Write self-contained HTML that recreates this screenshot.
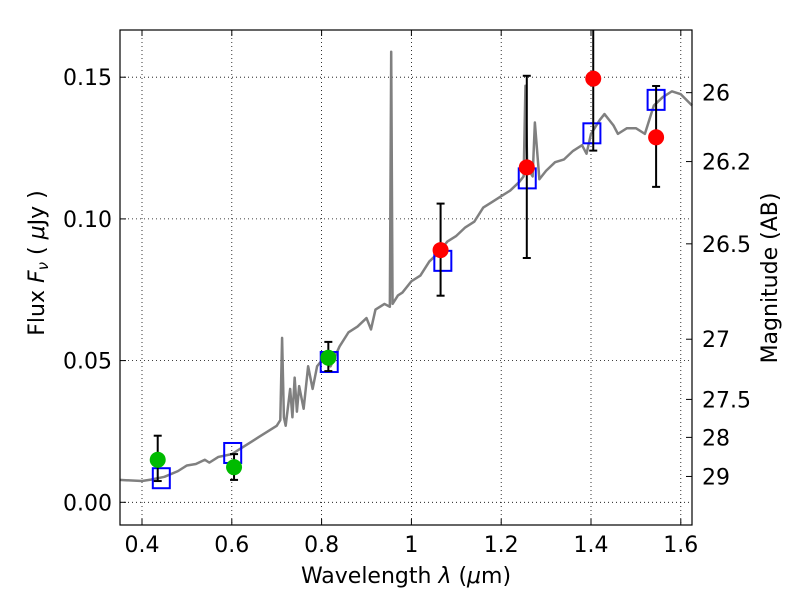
<!DOCTYPE html>
<html><head><meta charset="utf-8"><style>body{margin:0;background:#fff}svg{font-family:"DejaVu Sans","Liberation Sans",sans-serif}</style></head>
<body>
<svg id="c" width="800" height="600" xmlns="http://www.w3.org/2000/svg"></svg>
<script>
const specX=[0.35,0.40,0.42,0.45,0.48,0.50,0.52,0.54,0.55,0.57,0.60,0.62,0.64,0.66,0.68,0.70,0.708,0.712,0.716,0.72,0.73,0.735,0.74,0.745,0.75,0.76,0.77,0.78,0.79,0.80,0.82,0.84,0.86,0.88,0.90,0.91,0.92,0.94,0.952,0.955,0.958,0.97,0.98,1.00,1.02,1.04,1.06,1.08,1.10,1.12,1.14,1.16,1.18,1.20,1.22,1.24,1.25,1.254,1.258,1.27,1.275,1.285,1.30,1.32,1.34,1.36,1.38,1.39,1.40,1.42,1.43,1.45,1.46,1.48,1.50,1.52,1.54,1.56,1.58,1.60,1.625];
const specY=[0.0079,0.0075,0.008,0.009,0.011,0.013,0.0135,0.015,0.014,0.016,0.017,0.019,0.021,0.023,0.025,0.027,0.029,0.058,0.030,0.027,0.040,0.030,0.044,0.032,0.041,0.033,0.048,0.040,0.048,0.050,0.048,0.055,0.060,0.062,0.065,0.061,0.068,0.070,0.069,0.159,0.070,0.073,0.074,0.078,0.080,0.085,0.088,0.092,0.094,0.097,0.099,0.104,0.106,0.108,0.110,0.113,0.115,0.147,0.118,0.115,0.134,0.114,0.117,0.120,0.121,0.124,0.126,0.123,0.130,0.135,0.137,0.133,0.130,0.132,0.132,0.130,0.140,0.143,0.145,0.144,0.140];
const greenX=[0.435,0.605,0.815];
const greenY=[0.0150,0.0124,0.0510];
const greenLo=[0.0075,0.0079,0.0463];
const greenHi=[0.0235,0.0170,0.0566];
const redX=[1.065,1.257,1.405,1.545];
const redY=[0.0890,0.1182,0.1495,0.1288];
const redLo=[0.0729,0.0862,0.1241,0.1113];
const redHi=[0.1054,0.1505,0.1800,0.1469];
const boxX=[0.443,0.602,0.817,1.070,1.258,1.402,1.545];
const boxY=[0.0085,0.0174,0.0495,0.0852,0.1143,0.1302,0.1420];
const xTicks=[0.4,0.6,0.8,1.0,1.2,1.4,1.6];
const xTickLabels=["0.4","0.6","0.8","1","1.2","1.4","1.6"];
const yTicks=[0,0.05,0.10,0.15];
const yTickLabels=["0.00","0.05","0.10","0.15"];
const magTicks=[26,26.2,26.5,27,27.5,28,29];
const magTickLabels=["26","26.2","26.5","27","27.5","28","29"];

const L=120,R=692,T=30,B=525;
const sx=v=>142+(v-0.4)*449;
const sy=v=>502.3-v*2834;
const NS="http://www.w3.org/2000/svg";
const svg=document.getElementById('c');
function mk(t,a,p){const e=document.createElementNS(NS,t);for(const k in a)e.setAttribute(k,a[k]);(p||svg).appendChild(e);return e;}
const grid=mk('g',{});


xTicks.forEach((v,i)=>{const x=sx(v);
 mk('line',{x1:x,x2:x,y1:T,y2:B,stroke:'#000','stroke-width':0.8,'stroke-dasharray':'1,3'},grid);
 mk('line',{x1:x,x2:x,y1:B,y2:B-6,stroke:'#000'});mk('line',{x1:x,x2:x,y1:T,y2:T+6,stroke:'#000'});
 const t=mk('text',{x:x,y:B+27,'font-size':22,'text-anchor':'middle'});t.textContent=xTickLabels[i];
 
 });
yTicks.forEach((v,i)=>{const y=sy(v);
 mk('line',{x1:L,x2:R,y1:y,y2:y,stroke:'#000','stroke-width':0.8,'stroke-dasharray':'1,3'},grid);
 mk('line',{x1:L,x2:L+6,y1:y,y2:y,stroke:'#000'});
 const t=mk('text',{x:L-8,y:y+8,'font-size':22,'text-anchor':'end'});t.textContent=yTickLabels[i];
 
 });
magTicks.forEach((m,i)=>{const y=sy(Math.pow(10,-0.4*(m-23.9)));
 mk('line',{x1:R,x2:R-6,y1:y,y2:y,stroke:'#000'});
 const t=mk('text',{x:R+10,y:y+8,'font-size':22});t.textContent=magTickLabels[i];
 
 });
const sp=mk('polyline',{points:specX.map((v,i)=>sx(v)+','+sy(specY[i])).join(' '),fill:'none',stroke:'#808080','stroke-width':2.5,'stroke-linejoin':'round'});


function eb(x,lo,hi){const X=sx(x),y1=Math.max(sy(hi),T),y2=sy(lo);
 mk('line',{x1:X,x2:X,y1:y1,y2:y2,stroke:'#000','stroke-width':2});
 if(sy(hi)>T)mk('line',{x1:X-4,x2:X+4,y1:y1,y2:y1,stroke:'#000','stroke-width':2});
 mk('line',{x1:X-4,x2:X+4,y1:y2,y2:y2,stroke:'#000','stroke-width':2});}
boxX.forEach((v,i)=>{const b=mk('rect',{x:sx(v)-8.5,y:sy(boxY[i])-10,width:17,height:20,fill:'none',stroke:'#0000ff','stroke-width':2});
 
 });
greenX.forEach((v,i)=>{eb(v,greenLo[i],greenHi[i]);const c=mk('circle',{cx:sx(v),cy:sy(greenY[i]),r:8,fill:'#00bb00'});
 
 });
redX.forEach((v,i)=>{eb(v,redLo[i],redHi[i]);const c=mk('circle',{cx:sx(v),cy:sy(redY[i]),r:8,fill:'#ff0000'});
 
 });
const fr=mk('rect',{x:L,y:T,width:R-L,height:B-T,fill:'none',stroke:'#000','stroke-width':1.2});


const xl=mk('text',{x:406,y:583,'font-size':22,'text-anchor':'middle'});xl.innerHTML='Wavelength  <tspan font-style="italic">λ</tspan> (<tspan font-style="italic">μ</tspan>m)';
xl.setAttribute('xml:space','preserve');


const yl=mk('text',{x:0,y:0,'font-size':22,'text-anchor':'middle',transform:'translate(44,263) rotate(-90)'});yl.innerHTML='Flux  <tspan font-style="italic">F</tspan><tspan font-style="italic" font-size="15" dy="4">ν</tspan><tspan dy="-4">  (  </tspan><tspan font-style="italic">μ</tspan>Jy )';
yl.setAttribute('xml:space','preserve');


const rl=mk('text',{x:0,y:0,'font-size':22,'text-anchor':'middle',transform:'translate(777,278) rotate(-90)'});rl.textContent='Magnitude (AB)';


</script>
</body></html>
